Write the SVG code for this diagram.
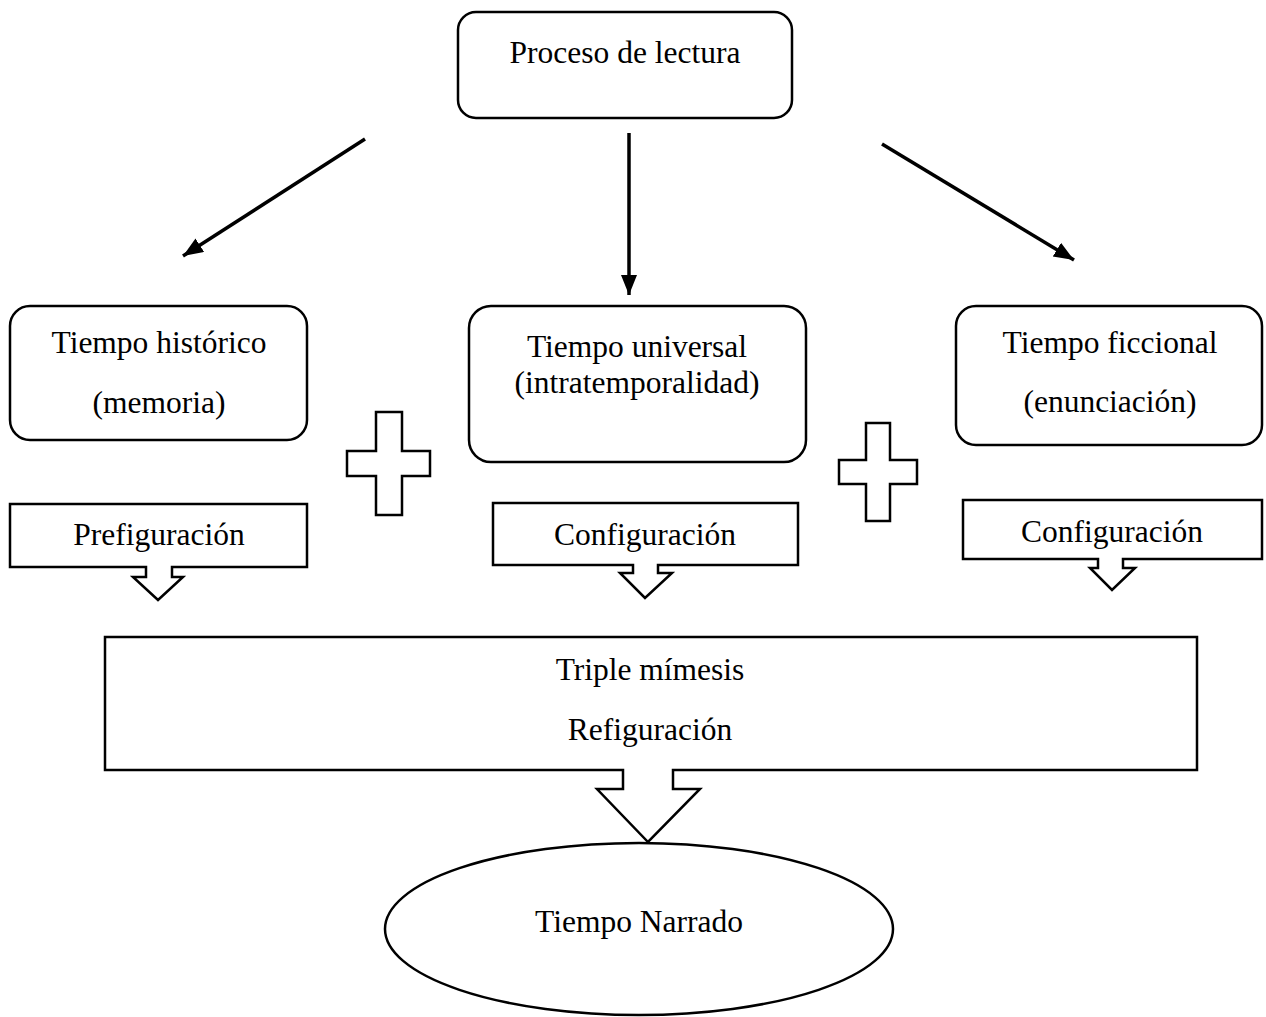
<svg xmlns="http://www.w3.org/2000/svg" width="1266" height="1017" viewBox="0 0 1266 1017">
<style>
.box{fill:#fff;stroke:#000;stroke-width:2.5}
.conn{stroke:#000;stroke-width:3.5;fill:none}
text{font-family:"Liberation Serif","Times New Roman",serif;font-size:31.5px;fill:#000;text-anchor:middle}
</style>
<defs>
<marker id="ah" markerUnits="userSpaceOnUse" markerWidth="22" markerHeight="18" refX="20" refY="8" orient="auto">
<path d="M0,0 L20,8 L0,16 Z" fill="#000"/>
</marker>
</defs>
<rect width="1266" height="1017" fill="#fff"/>
<g id="connectors">
<line class="conn" x1="365" y1="139" x2="183" y2="256" marker-end="url(#ah)"/>
<line class="conn" x1="629" y1="133" x2="629" y2="295" marker-end="url(#ah)"/>
<line class="conn" x1="882" y1="144" x2="1074" y2="260" marker-end="url(#ah)"/>
</g>
<g id="proceso">
<rect class="box" x="458" y="12" width="334" height="106" rx="18"/>
<text x="625" y="63">Proceso de lectura</text>
</g>
<g id="historico">
<rect class="box" x="10" y="306" width="297" height="134" rx="20"/>
<text x="159" y="353">Tiempo histórico</text>
<text x="159" y="413">(memoria)</text>
</g>
<g id="universal">
<rect class="box" x="469" y="306" width="337" height="156" rx="22"/>
<text x="637" y="357">Tiempo universal</text>
<text x="637" y="393">(intratemporalidad)</text>
</g>
<g id="ficcional">
<rect class="box" x="956" y="306" width="306" height="139" rx="20"/>
<text x="1110" y="353">Tiempo ficcional</text>
<text x="1110" y="412">(enunciación)</text>
</g>
<g id="plus1">
<path class="box" d="M376,412 H402 V451 H430 V476 H402 V515 H376 V476 H347 V451 H376 Z"/>
</g>
<g id="plus2">
<path class="box" d="M866,423 H890 V460 H917 V484 H890 V521 H866 V484 H839 V460 H866 Z"/>
</g>
<g id="prefiguracion">
<path class="box" d="M10,504 H307 V567 H172 V577 H183 L158,600 L133,577 H146 V567 H10 Z"/>
<text x="159" y="545">Prefiguración</text>
</g>
<g id="configuracion1">
<path class="box" d="M493,503 H798 V565 H658 V573 H672 L645,598 L620,573 H633 V565 H493 Z"/>
<text x="645" y="545">Configuración</text>
</g>
<g id="configuracion2">
<path class="box" d="M963,500 H1262 V559 H1123 V568 H1135 L1112,590 L1090,568 H1098 V559 H963 Z"/>
<text x="1112" y="542">Configuración</text>
</g>
<g id="mimesis">
<path class="box" d="M105,637 H1197 V770 H673 V789 H700 L648,842 L597,789 H623 V770 H105 Z"/>
<text x="650" y="680">Triple mímesis</text>
<text x="650" y="740">Refiguración</text>
</g>
<g id="narrado">
<ellipse class="box" cx="639" cy="929" rx="254" ry="86"/>
<text x="639" y="932">Tiempo Narrado</text>
</g>
</svg>
